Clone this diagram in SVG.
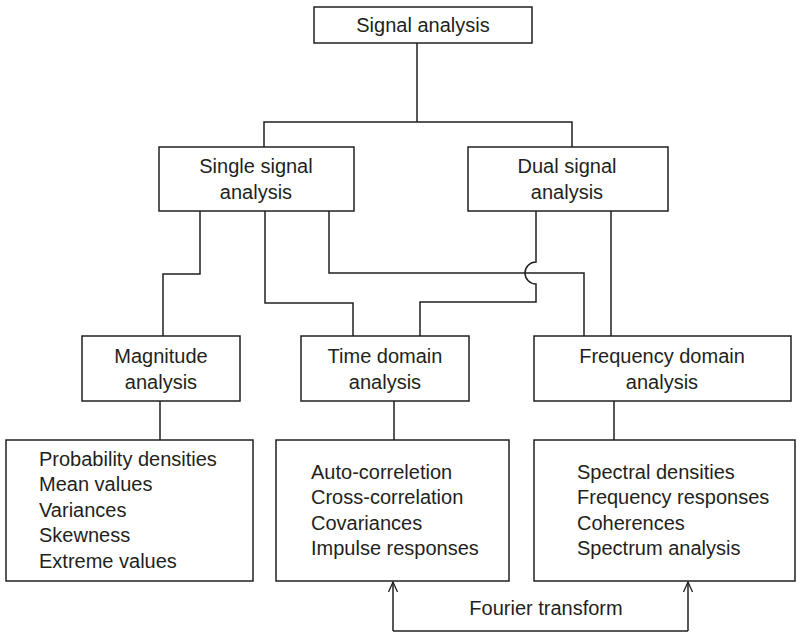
<svg xmlns="http://www.w3.org/2000/svg" width="797" height="633" viewBox="0 0 797 633">
  <style>
    .box { fill: #ffffff; stroke: #231f20; stroke-width: 1.5; }
    .wire { fill: none; stroke: #231f20; stroke-width: 1.5; }
    .lbl { font-family: "Liberation Sans", Arial, sans-serif; font-size: 20px; fill: #231f20; }
    .mid { text-anchor: middle; }
  </style>
  <defs>
    <marker id="openArrow" markerWidth="12" markerHeight="12" refX="10" refY="5" orient="auto" markerUnits="userSpaceOnUse">
      <path d="M0,0.5 L10,5 L0,9.5" fill="none" stroke="#231f20" stroke-width="1.3"/>
    </marker>
  </defs>
  <rect width="797" height="633" fill="#ffffff"/>

  <g id="connectors">
    <!-- root to the two branches -->
    <path class="wire" d="M417,43 V122 M264,147 V122 H572 V147"/>
    <!-- single signal to magnitude -->
    <path class="wire" d="M200,211 V274 H163 V336"/>
    <!-- single signal to time domain -->
    <path class="wire" d="M265,211 V303 H353 V336"/>
    <!-- single signal to frequency domain -->
    <path class="wire" d="M329,211 V273 H584 V336"/>
    <!-- dual signal to time domain, hopping over the crossing line -->
    <path class="wire" d="M536,211 V262 A11,11 0 0 0 536,284 V302 H420 V336"/>
    <!-- dual signal to frequency domain -->
    <path class="wire" d="M611,211 V336"/>
    <!-- analysis boxes to their result lists -->
    <path class="wire" d="M160,401 V440 M394,401 V440 M614,401 V440"/>
    <!-- Fourier transform link -->
    <path class="wire" d="M393,631 V582" marker-end="url(#openArrow)"/>
    <path class="wire" d="M688,631 V582" marker-end="url(#openArrow)"/>
    <path class="wire" d="M393,631 H688"/>
  </g>

  <g id="signal-analysis">
    <rect class="box" x="314" y="7" width="218" height="36"/>
    <text class="lbl mid" x="423" y="32">Signal analysis</text>
  </g>

  <g id="single-signal">
    <rect class="box" x="159" y="147" width="195" height="64"/>
    <text class="lbl mid" x="256" y="173">Single signal</text>
    <text class="lbl mid" x="256" y="199">analysis</text>
  </g>

  <g id="dual-signal">
    <rect class="box" x="468" y="147" width="200" height="64"/>
    <text class="lbl mid" x="567" y="173">Dual signal</text>
    <text class="lbl mid" x="567" y="199">analysis</text>
  </g>

  <g id="magnitude">
    <rect class="box" x="82" y="336" width="158" height="65"/>
    <text class="lbl mid" x="161" y="363">Magnitude</text>
    <text class="lbl mid" x="161" y="389">analysis</text>
  </g>

  <g id="time-domain">
    <rect class="box" x="301" y="336" width="168" height="65"/>
    <text class="lbl mid" x="385" y="363">Time domain</text>
    <text class="lbl mid" x="385" y="389">analysis</text>
  </g>

  <g id="frequency-domain">
    <rect class="box" x="534" y="336" width="257" height="65"/>
    <text class="lbl mid" x="662" y="363">Frequency domain</text>
    <text class="lbl mid" x="662" y="389">analysis</text>
  </g>

  <g id="magnitude-results">
    <rect class="box" x="6" y="440" width="247" height="141"/>
    <text class="lbl" x="39" y="466">Probability densities</text>
    <text class="lbl" x="39" y="491">Mean values</text>
    <text class="lbl" x="39" y="517">Variances</text>
    <text class="lbl" x="39" y="542">Skewness</text>
    <text class="lbl" x="39" y="568">Extreme values</text>
  </g>

  <g id="time-results">
    <rect class="box" x="276" y="440" width="233" height="141"/>
    <text class="lbl" x="311" y="479">Auto-correletion</text>
    <text class="lbl" x="311" y="504">Cross-correlation</text>
    <text class="lbl" x="311" y="530">Covariances</text>
    <text class="lbl" x="311" y="555">Impulse responses</text>
  </g>

  <g id="frequency-results">
    <rect class="box" x="534" y="440" width="261" height="141"/>
    <text class="lbl" x="577" y="479">Spectral densities</text>
    <text class="lbl" x="577" y="504">Frequency responses</text>
    <text class="lbl" x="577" y="530">Coherences</text>
    <text class="lbl" x="577" y="555">Spectrum analysis</text>
  </g>

  <g id="fourier-label">
    <text class="lbl mid" x="546" y="615">Fourier transform</text>
  </g>
</svg>
